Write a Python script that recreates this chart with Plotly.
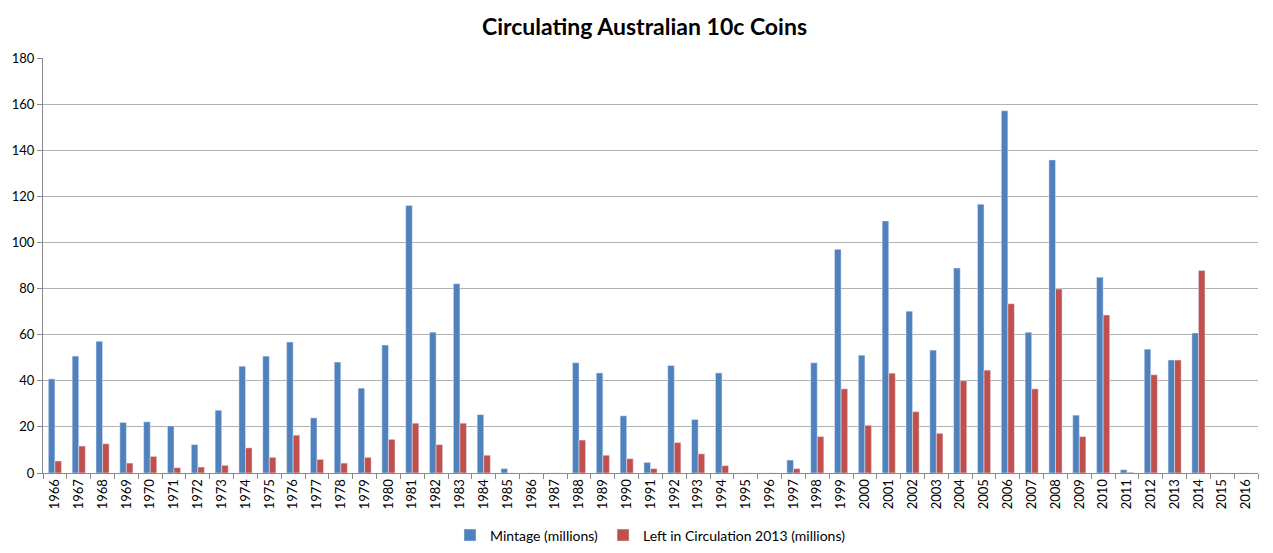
import plotly.graph_objects as go

years = [str(y) for y in range(1966, 2017)]

mintage = [
    40.8, 50.7, 57.1, 21.9, 22.2, 20.4, 12.3, 27.2, 46.3, 50.7,
    56.8, 23.9, 48.1, 36.8, 55.5, 116.0, 61.1, 82.1, 25.3, 1.9,
    0, 0, 47.8, 43.4, 24.8, 4.6, 46.6, 23.2, 43.4, 0,
    0, 5.6, 47.8, 97.0, 51.1, 109.3, 70.2, 53.3, 88.9, 116.6,
    157.1, 61.0, 135.8, 25.1, 84.9, 1.4, 53.7, 49.0, 60.7, 0,
    0,
]

left_2013 = [
    5.2, 11.7, 12.7, 4.3, 7.2, 2.3, 2.6, 3.3, 10.9, 6.8,
    16.4, 5.9, 4.3, 6.8, 14.6, 21.6, 12.3, 21.6, 7.7, 0,
    0, 0, 14.3, 7.7, 6.2, 1.9, 13.2, 8.3, 3.2, 0,
    0, 1.9, 15.8, 36.5, 20.7, 43.3, 26.6, 17.2, 40.0, 44.6,
    73.4, 36.5, 79.8, 15.8, 68.5, 0.3, 42.6, 49.0, 87.8, 0,
    0,
]

font = "Lato, 'Open Sans', Arial, sans-serif"

fig = go.Figure()
fig.add_trace(go.Bar(x=years, y=mintage, name="Mintage (millions)", marker_color="#4F81BD"))
fig.add_trace(go.Bar(x=years, y=left_2013, name="Left in Circulation 2013 (millions)", marker_color="#C0504D"))

# page body has an 8px margin, so shift everything up/left by 8px
fig.update_layout(
    width=1273, height=553,
    margin=dict(l=35, r=23, t=50, b=88, autoexpand=False),
    title=dict(text="<b>Circulating Australian 10c Coins</b>", x=0.5, xanchor="center",
               y=0.966, yanchor="middle", font=dict(family=font, size=23, color="#000")),
    barmode="group", bargap=0.45, bargroupgap=0,
    plot_bgcolor="white", paper_bgcolor="white",
    font=dict(family=font, size=13, color="#000"),
    showlegend=True,
    legend=dict(orientation="h", x=0.5, xanchor="center", y=-0.112, yanchor="top",
                font=dict(family=font, size=14), itemwidth=30),
)
fig.update_xaxes(type="category", tickangle=-90, showline=True, linecolor="#888", linewidth=1,
                 ticks="outside", tickson="boundaries", ticklen=5, tickcolor="#888",
                 tickfont=dict(size=13), showgrid=False, automargin=False)
fig.update_yaxes(range=[0, 180], dtick=20, showgrid=True, gridcolor="#b0b0b0", gridwidth=1,
                 showline=True, linecolor="#888", ticks="outside", ticklen=5, tickcolor="#888",
                 tickfont=dict(size=13), zeroline=False, automargin=False)

fig.write_html("out.html")
